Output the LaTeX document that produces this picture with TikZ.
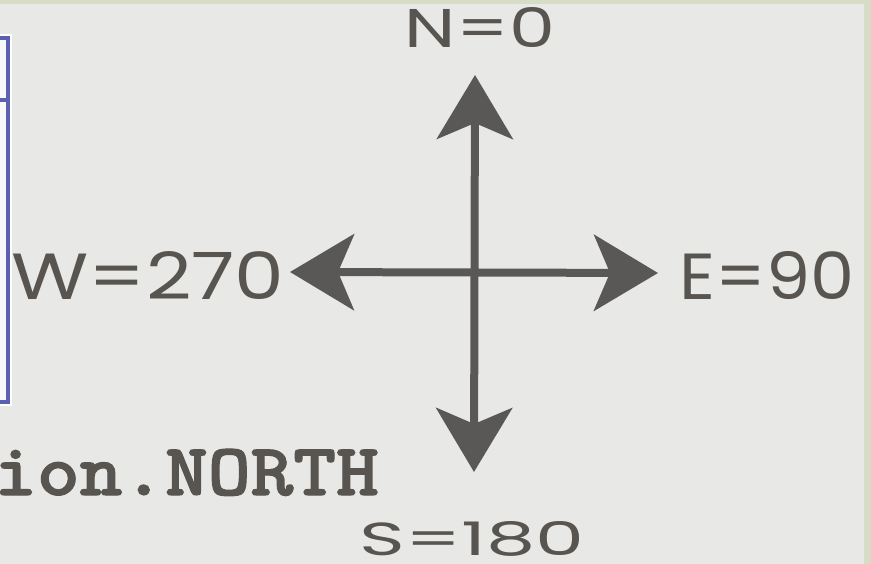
\documentclass[tikz,border=0pt]{standalone}
\usepackage{fontspec}
\usetikzlibrary{arrows.meta}
\newfontfamily\handfont{Poppins}
\newfontfamily\codefont{lmmonolt10-bold}[Extension=.otf, FakeBold=1.5]
\definecolor{bgpanel}{HTML}{E8E9E7}
\definecolor{gridstrip}{HTML}{D6DCC6}
\definecolor{boxblue}{HTML}{5B5FB0}
\definecolor{boxfill}{HTML}{F8F8FA}
\definecolor{ink}{HTML}{58544F}
\definecolor{chalk}{HTML}{5A5857}
\tikzset{
  hand/.style={inner sep=0pt, anchor=base, text=ink, font=\handfont},
  chalkarrow/.style={draw=chalk, line width=8pt,
    arrows={Stealth[length=64pt, width=76pt, inset=16pt]-Stealth[length=64pt, width=76pt, inset=16pt]}},
  codetext/.style={inner sep=0pt, anchor=base west, text=ink, font=\codefont\fontsize{74}{74}\selectfont}
}
\begin{document}
\begin{tikzpicture}[x=1pt, y=-1pt]
\useasboundingbox (0,0) rectangle (871,564);
% background
\fill[gridstrip] (0,0) rectangle (871,564);
\fill[bgpanel] (0,4) rectangle (864,564);
% blue box at left
\draw[white, line width=7pt] (-10,38) rectangle (8,402);
\draw[boxblue, line width=4pt, fill=boxfill] (-10,38) rectangle (8,402);
\draw[boxblue, line width=4pt] (-10,100) -- (8,100);
% code text
\node[codetext] (code) at (-6,495) {\scalebox{1.1}[1]{ion.NORTH}};
% labels
\node[hand] (nlab) at (480,48) {\resizebox{150pt}{40pt}{N=0}};
\node[hand] (wlab) at (148,300) {\resizebox{273pt}{48pt}{W=270}};
\node[hand] (elab) at (767,300) {\resizebox{175pt}{48pt}{E=90}};
\node[hand] (slab) at (472,555) {\resizebox{225pt}{34pt}{S=180}};
% arrow tips
\coordinate (ntip) at (475,75);
\coordinate (stip) at (474,472);
\coordinate (wtip) at (290,272);
\coordinate (etip) at (658,273);
\draw[chalkarrow] (stip) -- (ntip);
\draw[chalkarrow] (wtip) -- (etip);
\end{tikzpicture}
\end{document}
